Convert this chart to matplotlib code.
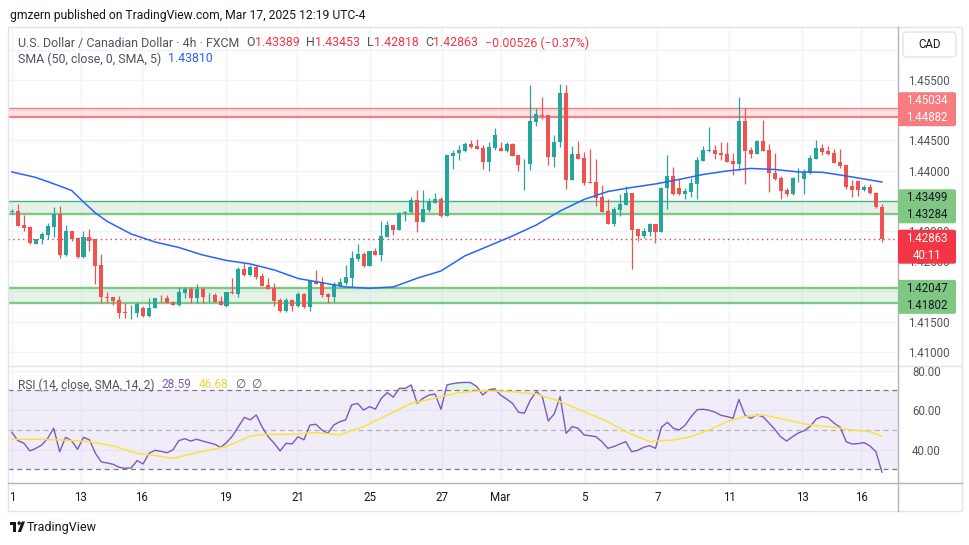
import numpy as np
import matplotlib.pyplot as plt
from matplotlib.patches import FancyBboxPatch, Polygon, Circle, Rectangle

plt.rcParams['font.family'] = ['Roboto', 'DejaVu Sans']

# USD/CAD 4h candles (FXCM)
opens = [1.43314, 1.43330, 1.43099, 1.43066, 1.42789, 1.42862, 1.42938, 1.43071, 1.43281, 1.42607,
         1.42999, 1.42888, 1.42574, 1.42900, 1.42862, 1.42436, 1.41901, 1.41901, 1.41857, 1.41663,
         1.41636, 1.41636, 1.41725, 1.41583, 1.41720, 1.41894, 1.41894, 1.41824, 1.41774, 1.41977,
         1.42039, 1.41890, 1.42039, 1.41939, 1.41939, 1.41840, 1.41757, 1.41989, 1.41956, 1.42370,
         1.42271, 1.42398, 1.42255, 1.42105, 1.42050, 1.41857, 1.41679, 1.41857, 1.41763, 1.41956,
         1.41746, 1.42171, 1.42150, 1.41956, 1.41911, 1.42094, 1.42144, 1.42226, 1.42536, 1.42619,
         1.42425, 1.42668, 1.42602, 1.42905, 1.43099, 1.43016, 1.43292, 1.43309, 1.43513, 1.43154,
         1.43347, 1.43458, 1.43529, 1.43253, 1.44247, 1.44286, 1.44329, 1.44440, 1.44412, 1.44366,
         1.44147, 1.44366, 1.44376, 1.44329, 1.44440, 1.44258, 1.44109, 1.44109, 1.44810, 1.44921,
         1.44921, 1.44230, 1.44468, 1.45280, 1.43844, 1.44274, 1.44203, 1.43811, 1.43811, 1.43567,
         1.43330, 1.43116, 1.43347, 1.43430, 1.43623, 1.43028, 1.42922, 1.42988, 1.43116, 1.42988,
         1.43707, 1.43911, 1.43707, 1.43612, 1.43650, 1.43778, 1.44164, 1.44329, 1.44341, 1.44296,
         1.44274, 1.44164, 1.44109, 1.44821, 1.44341, 1.44274, 1.44490, 1.44341, 1.43955, 1.43872,
         1.43678, 1.43612, 1.43872, 1.43861, 1.43955, 1.44192, 1.44369, 1.44324, 1.44286, 1.44147,
         1.44092, 1.43745, 1.43832, 1.43678, 1.43733, 1.43633, 1.43389]
highs = [1.43359, 1.43447, 1.43259, 1.43083, 1.42866, 1.42988, 1.43137, 1.43402, 1.43419, 1.43099,
         1.43002, 1.42905, 1.42999, 1.43028, 1.42865, 1.42619, 1.41994, 1.41904, 1.41928, 1.41812,
         1.41774, 1.41829, 1.41758, 1.41885, 1.41897, 1.41939, 1.41939, 1.41832, 1.42067, 1.42067,
         1.42077, 1.42122, 1.42077, 1.41977, 1.41977, 1.41923, 1.41988, 1.42217, 1.42398, 1.42464,
         1.42436, 1.42436, 1.42299, 1.42217, 1.42133, 1.41894, 1.41885, 1.41865, 1.41984, 1.41964,
         1.42188, 1.42354, 1.42243, 1.41977, 1.42150, 1.42226, 1.42436, 1.42668, 1.42779, 1.42657,
         1.42672, 1.42713, 1.43165, 1.43170, 1.43104, 1.43309, 1.43335, 1.43562, 1.43678, 1.43678,
         1.43551, 1.43623, 1.43568, 1.44262, 1.44341, 1.44423, 1.44478, 1.44506, 1.44523, 1.44423,
         1.44468, 1.44710, 1.44468, 1.44468, 1.44452, 1.44263, 1.44192, 1.45417, 1.45032, 1.45223,
         1.44926, 1.44589, 1.45434, 1.45417, 1.44407, 1.44490, 1.44313, 1.44357, 1.44192, 1.43761,
         1.43529, 1.43402, 1.43612, 1.43750, 1.43628, 1.43033, 1.43044, 1.43127, 1.43121, 1.43721,
         1.44258, 1.44054, 1.43856, 1.43707, 1.43872, 1.44230, 1.44407, 1.44727, 1.44423, 1.44468,
         1.44468, 1.44296, 1.45223, 1.45032, 1.44385, 1.44506, 1.44838, 1.44440, 1.44296, 1.43915,
         1.43707, 1.43889, 1.44038, 1.44021, 1.44258, 1.44506, 1.44440, 1.44407, 1.44352, 1.44357,
         1.44097, 1.43844, 1.43839, 1.43761, 1.43778, 1.43639, 1.43453]
lows = [1.43276, 1.43085, 1.43004, 1.42787, 1.42786, 1.42789, 1.42862, 1.42895, 1.42557, 1.42586,
        1.42828, 1.42557, 1.42557, 1.42668, 1.42117, 1.41812, 1.41812, 1.41769, 1.41563, 1.41563,
        1.41537, 1.41580, 1.41580, 1.41575, 1.41717, 1.41829, 1.41799, 1.41770, 1.41763, 1.41885,
        1.41812, 1.41802, 1.41812, 1.41829, 1.41826, 1.41770, 1.41746, 1.41956, 1.41911, 1.42255,
        1.42255, 1.42200, 1.42090, 1.42035, 1.41763, 1.41663, 1.41663, 1.41679, 1.41736, 1.41720,
        1.41679, 1.42123, 1.41911, 1.41812, 1.41829, 1.42067, 1.42105, 1.42067, 1.42507, 1.42408,
        1.42420, 1.42598, 1.42502, 1.42900, 1.42933, 1.43008, 1.43170, 1.43292, 1.42988, 1.43149,
        1.43319, 1.43455, 1.43226, 1.43248, 1.44026, 1.44175, 1.44303, 1.44366, 1.44353, 1.44026,
        1.43998, 1.44341, 1.44320, 1.44313, 1.44243, 1.43998, 1.43678, 1.44010, 1.44739, 1.44854,
        1.44092, 1.44064, 1.44395, 1.43695, 1.43836, 1.44188, 1.43761, 1.43789, 1.43414, 1.43309,
        1.43112, 1.43088, 1.43253, 1.43425, 1.42370, 1.42838, 1.42878, 1.42922, 1.42795, 1.42983,
        1.43364, 1.43600, 1.43595, 1.43529, 1.43567, 1.43529, 1.44159, 1.44313, 1.44192, 1.44175,
        1.44142, 1.43927, 1.44010, 1.43778, 1.44203, 1.44269, 1.44324, 1.43650, 1.43844, 1.43529,
        1.43584, 1.43595, 1.43806, 1.43612, 1.43948, 1.44187, 1.44258, 1.44258, 1.44125, 1.44048,
        1.43695, 1.43557, 1.43584, 1.43666, 1.43612, 1.43381, 1.42818]
closes = [1.43322, 1.43088, 1.43054, 1.42792, 1.42862, 1.42950, 1.43083, 1.43281, 1.42607, 1.42999,
          1.42867, 1.42574, 1.42900, 1.42838, 1.42425, 1.41901, 1.41894, 1.41845, 1.41646, 1.41636,
          1.41641, 1.41791, 1.41583, 1.41725, 1.41894, 1.41885, 1.41802, 1.41774, 1.41989, 1.42039,
          1.41885, 1.42039, 1.41911, 1.41944, 1.41829, 1.41774, 1.41984, 1.41967, 1.42370, 1.42271,
          1.42398, 1.42243, 1.42094, 1.42039, 1.41840, 1.41679, 1.41857, 1.41763, 1.41956, 1.41736,
          1.42171, 1.42127, 1.41939, 1.41911, 1.42122, 1.42155, 1.42238, 1.42548, 1.42619, 1.42425,
          1.42668, 1.42602, 1.42917, 1.43099, 1.43016, 1.43292, 1.43309, 1.43513, 1.43154, 1.43364,
          1.43496, 1.43529, 1.43253, 1.44258, 1.44296, 1.44341, 1.44440, 1.44385, 1.44357, 1.44147,
          1.44385, 1.44589, 1.44324, 1.44440, 1.44247, 1.44092, 1.44114, 1.44821, 1.44932, 1.44909,
          1.44230, 1.44468, 1.45280, 1.43844, 1.44274, 1.44192, 1.43799, 1.43799, 1.43550, 1.43319,
          1.43116, 1.43364, 1.43447, 1.43623, 1.43016, 1.42922, 1.42999, 1.43116, 1.42988, 1.43716,
          1.43911, 1.43607, 1.43607, 1.43661, 1.43789, 1.44175, 1.44341, 1.44336, 1.44274, 1.44263,
          1.44147, 1.44109, 1.44821, 1.44329, 1.44274, 1.44490, 1.44329, 1.43955, 1.43861, 1.43666,
          1.43612, 1.43872, 1.43877, 1.43972, 1.44203, 1.44369, 1.44313, 1.44274, 1.44130, 1.44081,
          1.43733, 1.43678, 1.43678, 1.43733, 1.43623, 1.43389, 1.42863]

# SMA(50) sampled along the candles
sma_idx = [0, 4, 8, 10, 12, 14, 16, 20, 24, 28, 32, 36, 40, 44, 48, 52, 56, 60, 64, 68, 72, 76,
           80, 84, 88, 92, 96, 100, 104, 108, 112, 116, 120, 124, 128, 132, 136, 140, 144, 146]
sma_val = [1.43977, 1.43886, 1.43745, 1.43670, 1.43480, 1.43297, 1.43157, 1.42950, 1.42817, 1.42726,
           1.42602, 1.42511, 1.42453, 1.42354, 1.42213, 1.42143, 1.42072, 1.42050, 1.42072, 1.42217,
           1.42337, 1.42586, 1.42751, 1.42917, 1.43099, 1.43330, 1.43521, 1.43653, 1.43720, 1.43778,
           1.43853, 1.43935, 1.43993, 1.44035, 1.44018, 1.43977, 1.43972, 1.43910, 1.43844, 1.43810]

# RSI(14) per candle and its SMA(14)
rsi = [48.6, 44.5, 43.2, 39.3, 40.6, 42.3, 45.7, 50.8, 38.9, 46.2,
       44.5, 40.1, 46.2, 44.9, 38.1, 33.7, 33.2, 32.5, 31.0, 30.5,
       30.7, 34.4, 32.7, 38.1, 39.6, 39.1, 38.4, 39.8, 44.5, 45.5,
       44.3, 45.2, 44.3, 43.5, 42.7, 41.1, 43.5, 46.9, 51.6, 56.3,
       55.0, 57.5, 51.3, 46.5, 43.2, 39.3, 43.2, 42.8, 46.5, 44.9,
       52.4, 52.8, 49.9, 48.2, 52.4, 54.1, 55.0, 62.6, 63.4, 60.0,
       61.7, 60.5, 66.0, 68.8, 66.5, 71.0, 71.0, 72.7, 63.4, 66.0,
       67.6, 68.1, 60.4, 72.7, 73.4, 73.8, 74.0, 73.9, 71.9, 67.6,
       70.2, 70.8, 67.6, 65.6, 63.4, 58.9, 58.4, 65.1, 69.3, 66.8,
       54.5, 58.0, 66.8, 48.2, 51.6, 50.8, 47.4, 47.0, 46.5, 44.0,
       40.6, 41.5, 42.8, 44.0, 38.9, 39.6, 41.1, 42.0, 40.6, 51.3,
       53.8, 50.8, 49.9, 52.4, 56.7, 60.2, 60.4, 59.9, 58.9, 57.3,
       56.7, 55.8, 65.4, 57.5, 55.8, 57.5, 56.7, 53.6, 50.3, 46.5,
       44.3, 46.5, 48.4, 49.6, 51.9, 55.5, 56.7, 56.0, 53.3, 51.3,
       44.0, 42.8, 43.0, 43.5, 41.8, 38.9, 28.59]
rsi_sma_idx = [0, 4, 8, 13, 17, 21, 24, 27, 31, 36, 40, 43, 47, 51, 55, 59, 63, 67, 71, 75,
               79, 84, 88, 92, 96, 100, 103, 107, 111, 114, 117, 120, 123, 126, 130, 134, 138, 141, 144, 146]
rsi_sma = [45.2, 45.2, 44.9, 44.0, 41.8, 38.1, 37.0, 35.5, 38.4, 41.5, 46.9, 47.7, 47.7, 48.6, 47.4,
           51.6, 57.5, 63.4, 66.0, 68.8, 69.8, 69.3, 68.1, 64.3, 59.2, 54.1, 49.1, 44.0, 44.9, 46.5,
           49.9, 54.1, 56.7, 57.5, 55.0, 52.4, 51.3, 49.9, 49.1, 46.68]

# drawn zones
resistance = (1.44882, 1.45034)
support_hi = (1.43284, 1.43499)
support_lo = (1.41802, 1.42047)
countdown = '40:11'

# time axis (candle index where each day starts)
day_pos = [0, 11.5, 21.8, 35.9, 47.9, 60.1, 72.1, 82, 96.1, 108.3, 120.4, 132.6, 142.5]
day_lbl = ['1', '13', '16', '19', '21', '25', '27', 'Mar', '5', '7', '11', '13', '16']

UP, DOWN = '#26A69A', '#EF5350'
GRID = '#F0F3FA'
TXT = '#131722'
GRAY = '#50535E'
W, H = 970, 545

fig = plt.figure(figsize=(W / 100, H / 100), dpi=100)


def frame(left, top, right, bottom):
    return [left / W, 1 - bottom / H, (right - left) / W, (bottom - top) / H]


ax = fig.add_axes(frame(8, 28, 898, 366))
ax2 = fig.add_axes(frame(8, 366, 898, 483))
ov = fig.add_axes([0, 0, 1, 1])
ov.set_xlim(0, W)
ov.set_ylim(H, 0)
ov.axis('off')

o, h, l, c = map(np.array, (opens, highs, lows, closes))
idx = np.arange(len(c))
col = np.where(c >= o, UP, DOWN)

# ---- price pane ----
for lo, hi, fill, top_c, bot_c, lw_t, lw_b in [
        (*resistance, '#F77C80', '#F77C80', '#F77C80', 1.0, 1.6),
        (*support_hi, '#81C784', '#4DB38C', '#81C784', 1.0, 1.7),
        (*support_lo, '#81C784', '#81C784', '#81C784', 1.7, 1.7)]:
    ax.axhspan(lo, hi, color=fill, alpha=0.2, lw=0, zorder=1)
    ax.axhline(hi, color=top_c, lw=lw_t, zorder=1.5)
    ax.axhline(lo, color=bot_c, lw=lw_b, zorder=1.5)

ax.vlines(idx, l, h, colors=col, lw=0.9, zorder=3)
ax.bar(idx, np.maximum(np.abs(c - o), 0.00004), bottom=np.minimum(o, c), width=0.68,
       color=col, lw=0, zorder=3)
ax.plot(sma_idx, sma_val, color='#2962FF', lw=1.1, zorder=4)
ax.axhline(c[-1], color='#F23645', lw=1, ls=(0, (1, 2.5)), zorder=2)

ax.set_xlim(-0.67, 148.7)
ax.set_ylim(1.40763, 1.46361)
price_ticks = np.arange(1.410, 1.4601, 0.005)
ax.set_yticks(price_ticks)
# labels that sit fully under the coloured scale boxes are not drawn
covered = [1.420, 1.435, 1.450, 1.460]
ax.set_yticklabels(['' if np.isclose(p, covered).any() else '%.5f' % p for p in price_ticks])
ax.yaxis.tick_right()
ax.set_xticks(day_pos)
ax.tick_params(axis='y', length=0, pad=7, labelsize=8.3, labelcolor=GRAY)
ax.tick_params(axis='x', length=0, labelbottom=False)
ax.grid(True, color=GRID, lw=1)
ax.set_axisbelow(True)
for s in ax.spines.values():
    s.set_visible(False)

# ---- RSI pane ----
r = np.array(rsi)
ax2.axhspan(30, 70, color='#7E57C2', alpha=0.1, lw=0)
ax2.fill_between(idx, 70, r, where=r > 70, interpolate=True, color='#4CAF50', alpha=0.15, lw=0)
ax2.fill_between(idx, 30, r, where=r < 30, interpolate=True, color='#F23645', alpha=0.15, lw=0)
for lvl, a in [(70, 1), (50, 0.5), (30, 1)]:
    ax2.axhline(lvl, color='#787B86', lw=0.9, ls=(0, (4, 3)), alpha=a)
ax2.plot(idx, r, color='#7E57C2', lw=1)
ax2.plot(rsi_sma_idx, rsi_sma, color='#F7E442', lw=1.1)
ax2.set_xlim(-0.67, 148.7)
ax2.set_ylim(23.06, 82.3)
ax2.set_yticks([40, 60, 80])
ax2.yaxis.tick_right()
ax2.yaxis.set_major_formatter(plt.FormatStrFormatter('%.2f'))
ax2.set_xticks(day_pos)
ax2.set_xticklabels(day_lbl)
ax2.tick_params(axis='y', length=0, pad=10, labelsize=8.3, labelcolor=GRAY)
ax2.tick_params(axis='x', length=0, pad=6, labelsize=8.3, labelcolor=TXT)
ax2.grid(True, color=GRID, lw=1)
ax2.set_axisbelow(True)
for s in ax2.spines.values():
    s.set_visible(False)


def img_y(a, v):
    return H - a.transData.transform((0, v))[1]


# ---- frame lines ----
ov.add_patch(Rectangle((8, 27), 954, 484, fill=False, ec='#E0E3EB', lw=1))
ov.plot([8, 962], [366, 366], color='#E0E3EB', lw=1)
ov.plot([898, 898], [27, 511], color='#B2B5BE', lw=1)
ov.plot([8, 962], [483, 483], color='#B2B5BE', lw=1)

# currency button
ov.add_patch(FancyBboxPatch((903, 32), 53, 25, boxstyle='round,pad=0,rounding_size=4',
                            fc='white', ec='#E0E3EB', lw=1))
ov.text(929.5, 44.5, 'CAD', ha='center', va='center', fontsize=8.3, color=TXT)


# ---- price scale labels ----
def scale_label(lines, yc, fc, tc):
    hgt = 17 * len(lines)
    ov.add_patch(FancyBboxPatch((898, yc - hgt / 2), 58, hgt, boxstyle='round,pad=0,rounding_size=2',
                                fc=fc, ec='none', zorder=5))
    for k, s in enumerate(lines):
        ov.text(927, yc - hgt / 2 + 8.5 + 17 * k, s, ha='center', va='center', fontsize=8.3,
                color=tc, zorder=6)


for (lo, hi), fc, tc, shift in [(resistance, '#F77C80', 'white', -3.5),
                                (support_hi, '#81C784', TXT, -1),
                                (support_lo, '#81C784', TXT, 1)]:
    yc = (img_y(ax, lo) + img_y(ax, hi)) / 2 + shift
    scale_label(['%.5f' % hi, '%.5f' % lo], yc, fc, tc)

yl = img_y(ax, c[-1])
scale_label(['%.5f' % c[-1], countdown], yl + 7.5, '#F23645', 'white')

# ---- legend lines ----
renderer = fig.canvas.get_renderer()


def segments(x, y, parts, size=8.9):
    for s, colr, gap in parts:
        t = ov.text(x, y, s, ha='left', va='center', fontsize=size, color=colr)
        bb = t.get_window_extent(renderer)
        x += bb.width + gap


chg = c[-1] - c[-2]
segments(18, 43, [('U.S. Dollar / Canadian Dollar · 4h · FXCM', GRAY, 7),
                  ('O', GRAY, 0), ('%.5f' % o[-1], '#F23645', 7),
                  ('H', GRAY, 0), ('%.5f' % h[-1], '#F23645', 7),
                  ('L', GRAY, 0), ('%.5f' % l[-1], '#F23645', 7),
                  ('C', GRAY, 0), ('%.5f' % c[-1], '#F23645', 7),
                  ('\u2212%.5f (\u2212%.2f%%)' % (-chg, -chg / c[-2] * 100), '#F23645', 0)])
segments(18, 59, [('SMA (50, close, 0, SMA, 5)', GRAY, 7), ('%.5f' % sma_val[-1], '#2962FF', 0)])
segments(18, 385, [('RSI (14, close, SMA, 14, 2)', GRAY, 7), ('%.2f' % rsi[-1], '#7E57C2', 7),
                   ('%.2f' % rsi_sma[-1], '#E8D53A', 7), ('\u2205', GRAY, 6), ('\u2205', GRAY, 0)],
         size=8.6)

ov.text(10, 15, 'gmzern published on TradingView.com, Mar 17, 2025 12:19 UTC-4',
        ha='left', va='center', fontsize=8.7, color=TXT)

# logo
ov.add_patch(Polygon([(10, 521.5), (16.5, 521.5), (16.5, 532), (13.3, 532), (13.3, 524.6), (10, 524.6)],
                     fc=TXT, ec='none'))
ov.add_patch(Circle((19.2, 523.2), 1.7, fc=TXT, ec='none'))
ov.add_patch(Polygon([(21.8, 521.5), (25, 521.5), (21, 532), (17.8, 532)], fc=TXT, ec='none'))
ov.text(27, 527, 'TradingView', ha='left', va='center', fontsize=9, color=TXT)

fig.savefig('out.png', dpi=100)
